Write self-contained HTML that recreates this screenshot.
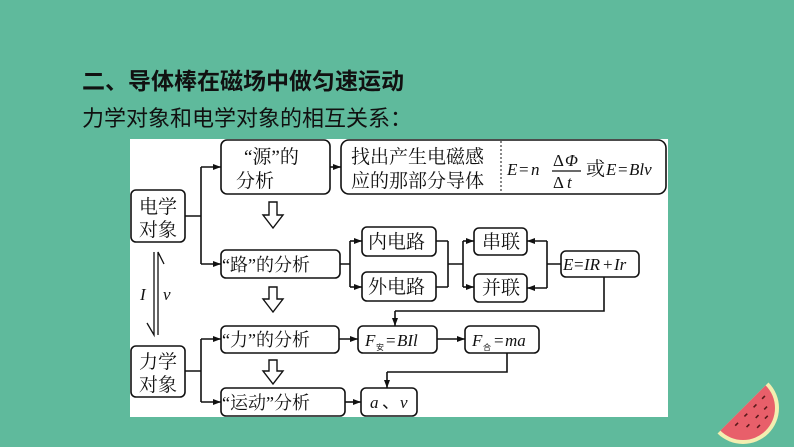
<!DOCTYPE html>
<html><head><meta charset="utf-8"><style>
html,body{margin:0;padding:0;}
body{width:794px;height:447px;background:#5fba9c;position:relative;overflow:hidden;font-family:"Liberation Sans","Noto Sans CJK SC",sans-serif;}
svg{position:absolute;left:0;top:0;}
</style></head><body>
<svg width="794" height="447" viewBox="0 0 794 447" xmlns="http://www.w3.org/2000/svg">
<defs>
<marker id="a" markerWidth="8" markerHeight="6" refX="8" refY="3" orient="auto" markerUnits="userSpaceOnUse"><path d="M0,0 L8,3 L0,6 Z" fill="#111"/></marker>
</defs>
<text x="82" y="89" font-family="Liberation Sans,Noto Sans CJK SC,sans-serif" font-size="23" font-weight="bold" fill="#111">二、导体棒在磁场中做匀速运动</text>
<text x="82" y="126" font-family="Liberation Sans,Noto Sans CJK SC,sans-serif" font-size="22" fill="#111">力学对象和电学对象的相互关系：</text>
<rect x="130" y="139" width="538" height="278" fill="#fff"/>
<g fill="none" stroke="#111" stroke-width="1.6">
<rect x="131" y="190" width="54" height="52" rx="5"/>
<rect x="221" y="140" width="109" height="54" rx="6"/>
<rect x="341" y="140" width="325" height="54" rx="8"/>
<line x1="501" y1="141" x2="501" y2="193" stroke-dasharray="2,2" stroke-width="1"/>
<rect x="221" y="250" width="119" height="28" rx="5"/>
<rect x="362" y="227" width="74" height="29" rx="5"/>
<rect x="362" y="272" width="74" height="29" rx="5"/>
<rect x="474" y="228" width="53" height="27" rx="5"/>
<rect x="474" y="274" width="53" height="28" rx="5"/>
<rect x="561" y="251" width="78" height="26" rx="5"/>
<rect x="221" y="326" width="118" height="27" rx="5"/>
<rect x="358" y="326" width="79" height="27" rx="5"/>
<rect x="465" y="326" width="74" height="27" rx="5"/>
<rect x="131" y="346" width="54" height="51" rx="5"/>
<rect x="221" y="388" width="124" height="28" rx="5"/>
<rect x="361" y="388" width="56" height="28" rx="5"/>
<path d="M185,216 H201 M201,167 V264"/>
<path d="M201,167 H221" marker-end="url(#a)"/>
<path d="M201,264 H221" marker-end="url(#a)"/>
<path d="M330,167 H341" marker-end="url(#a)"/>
<path d="M340,264 H350 M350,241 V287"/>
<path d="M350,241 H362" marker-end="url(#a)"/>
<path d="M350,287 H362" marker-end="url(#a)"/>
<path d="M436,241 H448 M436,287 H448 M448,241 V287 M448,264 H463 M463,241 V287"/>
<path d="M463,241 H474" marker-end="url(#a)"/>
<path d="M463,287 H474" marker-end="url(#a)"/>
<path d="M561,264 H547 M547,241 V288"/>
<path d="M547,241 H527" marker-end="url(#a)"/>
<path d="M547,288 H527" marker-end="url(#a)"/>
<path d="M604,277 V311 H395"/>
<path d="M395,311 V326" marker-end="url(#a)"/>
<path d="M185,371 H201 M201,339 V402"/>
<path d="M201,339 H221" marker-end="url(#a)"/>
<path d="M201,402 H221" marker-end="url(#a)"/>
<path d="M339,339 H358" marker-end="url(#a)"/>
<path d="M437,339 H465" marker-end="url(#a)"/>
<path d="M507,353 V372 H387"/>
<path d="M387,372 V388" marker-end="url(#a)"/>
<path d="M345,402 H361" marker-end="url(#a)"/>
<path d="M154,252 V335 L147,323 M158,335 V252 L164,264" stroke-width="1.3"/>
</g>
<g fill="#fff" stroke="#111" stroke-width="1.4">
<path d="M269,202 H277 V215 H283 L273,228 L263,215 H269 Z"/>
<path d="M269,287 H277 V299 H283 L273,312 L263,299 H269 Z"/>
<path d="M269,360 H277 V371 H283 L273,384 L263,371 H269 Z"/>
</g>
<g font-family="Liberation Serif,Noto Serif CJK SC,serif" font-size="19" fill="#111">
<text x="139" y="213">电学</text><text x="139" y="236">对象</text>
<text x="139" y="368">力学</text><text x="139" y="391">对象</text>
<text x="244" y="163">“源”的</text><text x="236" y="187">分析</text>
<text x="351" y="163">找出产生电磁感</text><text x="351" y="187">应的那部分导体</text>
<text x="222" y="271" font-size="18">“路”的分析</text>
<text x="368" y="248">内电路</text><text x="368" y="293">外电路</text>
<text x="482" y="248">串联</text><text x="482" y="294">并联</text>
<text x="222" y="346" font-size="18">“力”的分析</text>
<text x="222" y="409" font-size="18">“运动”分析</text>
<text x="586" y="175">或</text>
</g>
<g font-family="Liberation Serif,serif" font-style="italic" font-size="17" fill="#111">
<text x="507" y="175">E</text><text x="519" y="175" font-style="normal">=</text><text x="531" y="175">n</text>
<text x="553" y="166" font-style="normal">Δ</text><text x="565" y="166">Φ</text>
<text x="553" y="188" font-style="normal">Δ</text><text x="567" y="188">t</text>
<text x="606" y="175">E</text><text x="618" y="175" font-style="normal">=</text><text x="629" y="175">Blv</text>
<text x="563" y="270">E</text><text x="574" y="270" font-style="normal">=</text><text x="584" y="270">IR</text><text x="603" y="270" font-style="normal">+</text><text x="614" y="270">Ir</text>
<text x="365" y="346">F</text><text x="386" y="346" font-style="normal">=</text><text x="397" y="346">BIl</text>
<text x="472" y="346">F</text><text x="494" y="346" font-style="normal">=</text><text x="505" y="346">ma</text>
<text x="370" y="408">a</text><text x="382" y="408" font-style="normal">、</text><text x="400" y="408">v</text>
<text x="140" y="300">I</text><text x="163" y="300">v</text>
</g>
<line x1="552" y1="171" x2="581" y2="171" stroke="#111" stroke-width="1.2"/>
<g font-family="Noto Sans CJK SC,sans-serif" font-size="8" fill="#111"><text x="376" y="350">安</text><text x="483" y="350">合</text></g>
<g transform="translate(743,408) rotate(-45)">
<path d="M-36,0 A36,36 0 0 0 36,0 Z" fill="#f3eeb0"/>
<path d="M-32,0 A32,32 0 0 0 32,0 Z" fill="#e85f6a"/>
<g stroke="#5a1a1a" stroke-width="1.6">
<line x1="-18" y1="7" x2="-14" y2="7"/><line x1="-5" y1="7" x2="-1" y2="7"/><line x1="8" y1="7" x2="12" y2="7"/><line x1="20" y1="7" x2="24" y2="7"/>
<line x1="-11" y1="16" x2="-7" y2="16"/><line x1="2" y1="16" x2="6" y2="16"/><line x1="14" y1="16" x2="18" y2="16"/>
<line x1="-4" y1="24" x2="0" y2="24"/><line x1="8" y1="23" x2="12" y2="23"/>
</g>
</g>
</svg>
</body></html>
